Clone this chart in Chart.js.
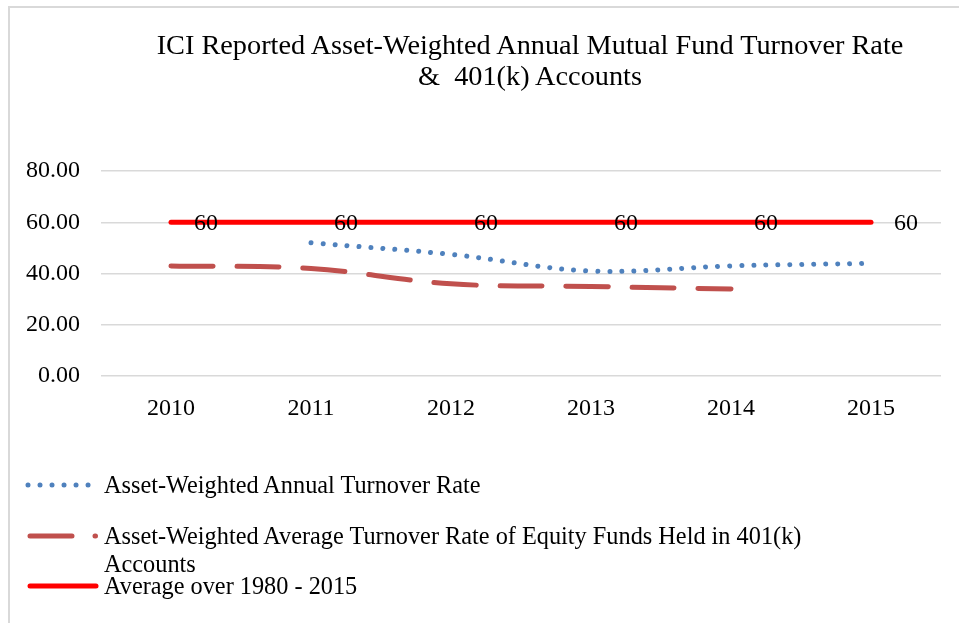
<!DOCTYPE html>
<html>
<head>
<meta charset="utf-8">
<script src="https://cdn.jsdelivr.net/npm/chart.js@4.4.0/dist/chart.umd.min.js"></script>
<style>
  html, body { margin: 0; padding: 0; background: #fff; }
  #wrap { position: relative; width: 959px; height: 623px; overflow: hidden; font-family: "Liberation Serif", "Times New Roman", serif; color: #000; }
  #frame { position: absolute; left: 8px; top: 6px; width: 1000px; height: 700px; border-left: 2px solid #d9d9d9; border-top: 2px solid #d9d9d9; }
  #chart { position: absolute; left: 0; top: 0; }
  #title { position: absolute; left: 80px; width: 900px; top: 29px; text-align: center; font-size: 28.3px; line-height: 31px; }
  .leg { position: absolute; left: 104px; font-size: 24.3px; line-height: 28px; }
  .swatch { position: absolute; left: 0; }
</style>
</head>
<body>
<div id="wrap">
  <div id="frame"></div>
  <canvas id="chart" width="959" height="623"></canvas>
  <div id="title">ICI Reported Asset-Weighted Annual Mutual Fund Turnover Rate<br>&amp;&nbsp; 401(k) Accounts</div>
  <svg class="swatch" width="110" height="623" style="top:0">
    <line x1="28" y1="485" x2="92" y2="485" stroke="#4f81bd" stroke-width="5" stroke-linecap="round" stroke-dasharray="0.01 12"/>
    <line x1="30" y1="536" x2="95.5" y2="536" stroke="#c0504d" stroke-width="5" stroke-linecap="round" stroke-dasharray="42 23"/>
    <line x1="30" y1="586" x2="96" y2="586" stroke="#ff0000" stroke-width="5" stroke-linecap="round"/>
  </svg>
  <div class="leg" style="top:471px">Asset-Weighted Annual Turnover Rate</div>
  <div class="leg" style="top:522px">Asset-Weighted Average Turnover Rate of Equity Funds Held in 401(k)<br>Accounts</div>
  <div class="leg" style="top:572px">Average over 1980 - 2015</div>
</div>
<script>
const years = ['2010', '2011', '2012', '2013', '2014', '2015']
const turnoverRate = [null, 52, 47.5, 41, 43, 44]
const equity401k = [43, 42, 36, 35, 34, null]
const longRunAvg = [60, 60, 60, 60, 60, 60]
const yTicks = [0, 20, 40, 60, 80]

const tickFont = { family: 'Liberation Serif', size: 24 }

// "60" labels next to each point of the average line
const avgLabels = {
  id: 'avgLabels',
  afterDatasetsDraw(chart) {
    const ctx = chart.ctx
    const meta = chart.getDatasetMeta(2)
    ctx.save()
    ctx.font = '24px "Liberation Serif"'
    ctx.fillStyle = '#000'
    ctx.textAlign = 'center'
    ctx.textBaseline = 'middle'
    meta.data.forEach((pt, i) => {
      ctx.fillText(String(longRunAvg[i]), pt.x + 35, pt.y + 1)
    })
    ctx.restore()
  }
}

const ctx = document.getElementById('chart')
new Chart(ctx, {
  type: 'line',
  data: {
    labels: years,
    datasets: [
      {
        label: 'Asset-Weighted Annual Turnover Rate',
        data: turnoverRate,
        borderColor: '#4f81bd',
        borderWidth: 5,
        borderDash: [0.01, 12],
        borderCapStyle: 'round',
        tension: 0.35,
        pointRadius: 0
      },
      {
        label: 'Asset-Weighted Average Turnover Rate of Equity Funds Held in 401(k) Accounts',
        data: equity401k,
        borderColor: '#c0504d',
        borderWidth: 5,
        borderDash: [42, 24],
        borderCapStyle: 'round',
        tension: 0.35,
        pointRadius: 0
      },
      {
        label: 'Average over 1980 - 2015',
        data: longRunAvg,
        borderColor: '#ff0000',
        borderWidth: 5,
        borderCapStyle: 'round',
        pointRadius: 0
      }
    ]
  },
  options: {
    responsive: false,
    animation: false,
    layout: { padding: { left: 5, right: 18, top: 171, bottom: 182 } },
    plugins: {
      legend: { display: false },
      title: { display: false },
      tooltip: { enabled: false }
    },
    scales: {
      x: {
        offset: true,
        grid: { display: false, drawTicks: false },
        border: { display: false },
        ticks: { color: '#000', font: tickFont, padding: 18 }
      },
      y: {
        min: 0,
        max: 80,
        afterBuildTicks: axis => { axis.ticks = yTicks.map(v => ({ value: v })) },
        grid: { color: '#d9d9d9', lineWidth: 1.5, drawTicks: false },
        border: { display: false },
        ticks: { color: '#000', font: tickFont, padding: 21, callback: v => Number(v).toFixed(2) }
      }
    }
  },
  plugins: [avgLabels]
})
</script>
</body>
</html>
